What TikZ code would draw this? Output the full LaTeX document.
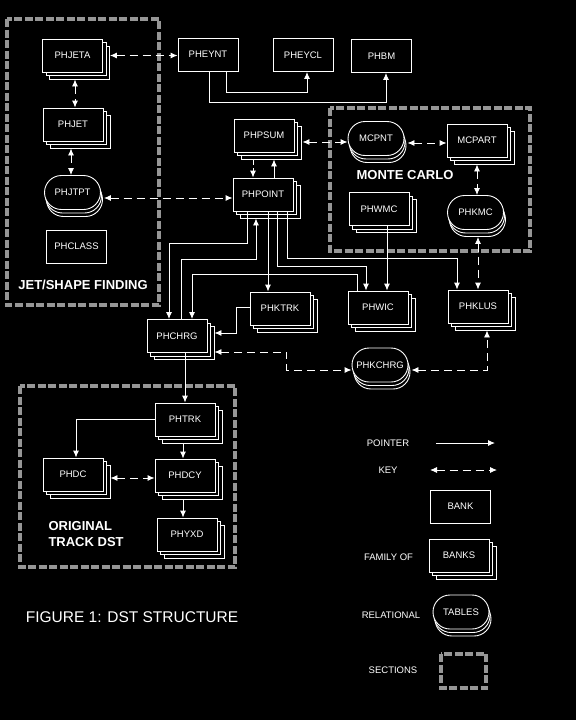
\documentclass[tikz,border=0pt]{standalone}
\usepackage{fontspec}
\setmainfont{Liberation Sans}
\usetikzlibrary{arrows.meta,positioning,calc,shadows}
\definecolor{secgray}{RGB}{150,150,150}

\tikzset{
  bank/.style={draw=white, fill=black, text=white, line width=0.9pt, minimum width=60pt, minimum height=33pt, inner sep=0pt, font=\fontsize{9.5}{11}\selectfont},
  family/.style={bank, double copy shadow={shadow xshift=3.5pt, shadow yshift=-3.5pt, draw=white, fill=black, line width=0.9pt}},
  table/.style={bank, rounded corners=17pt, minimum width=56pt, minimum height=34pt, double copy shadow={shadow xshift=1pt, shadow yshift=-3.5pt, draw=white, fill=black, line width=0.9pt}},
  pointer/.style={white, line width=0.9pt, -{Latex[length=7pt,width=6pt]}},
  key/.style={pointer, {Latex[length=7pt,width=6pt]}-{Latex[length=7pt,width=6pt]}, dash pattern=on 8pt off 5pt},
  section/.style={draw=secgray, line width=3.5pt, dash pattern=on 8pt off 2.5pt},
  sectitle/.style={white, font=\bfseries\fontsize{13}{16}\selectfont},
  legend/.style={white, font=\fontsize{9.5}{11}\selectfont}
}

\begin{document}
\begin{tikzpicture}[x=1pt, y=-1pt]
    % Background and page
    \fill[black] (0,0) rectangle (576,720);
    % Sections
    \draw[section] (7,19) rectangle (159,305);
    \draw[section] (330,108) rectangle (530,251);
    \draw[section] (20,386) rectangle (235,567);
    % Jet/shape finding
    \node[family] (phjeta) at (72.5,55.5) {PHJETA};
    \node[family] (phjet) at (73,124.5) {PHJET};
    \node[table] (phjtpt) at (72.5,192.5) {PHJTPT};
    \node[bank] (phclass) at (76.5,246.5) {PHCLASS};
    \node[sectitle] (jettitle) at (83,285) {JET/SHAPE FINDING};
    % Event banks
    \node[bank] (pheynt) at (208,54.5) {PHEYNT};
    \node[bank] (pheycl) at (303,55) {PHEYCL};
    \node[bank] (phbm) at (381.5,56) {PHBM};
    \node[family] (phpsum) at (264,135.5) {PHPSUM};
    \node[family] (phpoint) at (263,194.5) {PHPOINT};
    % Monte Carlo
    \node[table] (mcpnt) at (376,138.5) {MCPNT};
    \node[family] (mcpart) at (477,140.5) {MCPART};
    \node[sectitle] (mctitle) at (405,175) {MONTE CARLO};
    \node[family] (phwmc) at (379,209) {PHWMC};
    \node[table] (phkmc) at (475.5,212.5) {PHKMC};
    % Pointed-to banks
    \node[family] (phktrk) at (280,308.5) {PHKTRK};
    \node[family] (phwic) at (378,307.5) {PHWIC};
    \node[family] (phklus) at (478,306.5) {PHKLUS};
    \node[family] (phchrg) at (177,336) {PHCHRG};
    \node[table] (phkchrg) at (380,365) {PHKCHRG};
    % Original track DST
    \node[family] (phtrk) at (185,419.5) {PHTRK};
    \node[family] (phdc) at (73,474.5) {PHDC};
    \node[family] (phdcy) at (185,475.5) {PHDCY};
    \node[family] (phyxd) at (187,534.5) {PHYXD};
    \node[sectitle, align=left, anchor=west] (trktitle) at (45,534) {ORIGINAL\\TRACK DST};
    \node[white, font=\fontsize{15.5}{18}\selectfont] (figtitle) at (132,617) {FIGURE 1: DST STRUCTURE};

    % Keys
    \draw[key] ([xshift=7pt]phjeta.east) -- (pheynt.west |- phjeta.east);
    \draw[key] ([xshift=2.5pt,yshift=-7pt]phjeta.south) -- ([xshift=2pt]phjet.north);
    \draw[key] ([xshift=-2pt,yshift=-7pt]phjet.south) -- ([xshift=-1.5pt]phjtpt.north);
    \draw[key] ([xshift=3pt,yshift=-5.5pt]phjtpt.east) -- ([yshift=-3.5pt]phpoint.west);
    \draw[key] ([xshift=8pt,yshift=-6.5pt]phpsum.east) -- ([yshift=-3.5pt]mcpnt.west);
    \draw[key] ([xshift=3pt,yshift=-4.5pt]mcpnt.east) -- ([yshift=-2.5pt]mcpart.west);
    \draw[key] ([yshift=-7pt]mcpart.south) -- ([xshift=1.5pt]phkmc.north);
    \draw[key] ([xshift=2.5pt,yshift=-7pt]phkmc.south) -- (phklus.north);
    \draw[key] ([xshift=7pt,yshift=-16pt]phchrg.east) -| ([xshift=-65pt,yshift=-5pt]phkchrg.west) -- ([yshift=-5pt]phkchrg.west);
    \draw[key] ([xshift=3pt,yshift=-5pt]phkchrg.east) -| ([xshift=9pt,yshift=-7pt]phklus.south);
    \draw[key] ([xshift=7pt,yshift=-3.5pt]phdc.east) -- ([yshift=-2.5pt]phdcy.west);

    % Pointers
    \draw[pointer] ([xshift=18pt]pheynt.south) |- ([xshift=4pt,yshift=-20pt]pheycl.south) -- ([xshift=4pt]pheycl.south);
    \draw[pointer] ([xshift=1pt]pheynt.south) |- ([xshift=4.5pt,yshift=-29.5pt]phbm.south) -- ([xshift=4.5pt]phbm.south);
    \draw[pointer, dash pattern=on 6pt off 3pt] ([xshift=-11pt,yshift=-7pt]phpsum.south) -- ([xshift=-10pt]phpoint.north);
    \draw[pointer] ([xshift=11pt]phpoint.north) -- ([xshift=10pt,yshift=-7pt]phpsum.south);
    \draw[pointer] ([xshift=-16pt]phpoint.south) |- ([xshift=-8pt,yshift=76pt]phchrg.north) -- ([xshift=-8pt]phchrg.north);
    \draw[pointer] ([xshift=4pt]phchrg.north) |- ([xshift=-7pt,yshift=-48pt]phpoint.south) -- ([xshift=-7pt,yshift=-7pt]phpoint.south);
    \draw[pointer] ([xshift=-21pt]phwic.north) |- ([xshift=15pt,yshift=45pt]phchrg.north) -- ([xshift=15pt]phchrg.north);
    \draw[pointer] ([xshift=5pt]phpoint.south) -- ([xshift=-12pt]phktrk.north);
    \draw[pointer] ([xshift=14pt]phpoint.south) |- ([xshift=-12pt,yshift=24pt]phwic.north) -- ([xshift=-12pt]phwic.north);
    \draw[pointer] ([xshift=24pt]phpoint.south) |- ([xshift=-21pt,yshift=31pt]phklus.north) -- ([xshift=-21pt]phklus.north);
    \draw[pointer] ([xshift=8pt]phwmc.south) -- ([xshift=9pt]phwic.north);
    \draw[pointer] ([yshift=1.5pt]phktrk.west) -| ([xshift=29pt,yshift=3pt]phchrg.east) -- ([xshift=7pt,yshift=3pt]phchrg.east);
    \draw[pointer] ([xshift=8pt]phchrg.south) -- (phtrk.north);
    \draw[pointer] (phtrk.west) -| ([xshift=3pt]phdc.north);
    \draw[pointer] ([xshift=-2pt,yshift=-7pt]phtrk.south) -- ([xshift=-2pt]phdcy.north);
    \draw[pointer] ([xshift=-2pt,yshift=-7pt]phdcy.south) -- ([xshift=-4pt]phyxd.north);

    % Legend
    \node[legend] (ptrlabel) at (388,443) {POINTER};
    \coordinate (ptrstart) at (436,443);
    \coordinate (ptrend) at (495,443);
    \draw[pointer] (ptrstart) -- (ptrend);
    \node[legend] (keylabel) at (388,470) {KEY};
    \coordinate (keystart) at (430,470);
    \coordinate (keyend) at (497,470);
    \draw[key] (keystart) -- (keyend);
    \node[bank] (legbank) at (460.5,506.5) {BANK};
    \node[legend] (famlabel) at (388.5,557) {FAMILY OF};
    \node[family] (legbanks) at (459,555.5) {BANKS};
    \node[legend] (rellabel) at (391,615) {RELATIONAL};
    \node[table] (legtables) at (461,612) {TABLES};
    \node[legend] (seclabel) at (393,670) {SECTIONS};
    \draw[section] (441,654) rectangle (486,688);
\end{tikzpicture}
\end{document}
